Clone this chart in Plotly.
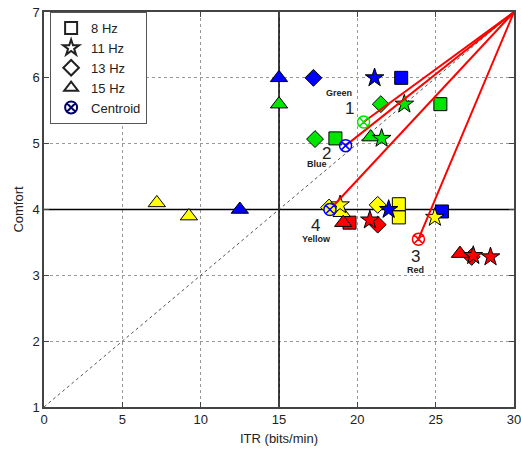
import plotly.graph_objects as go

# ---- data ----
COL = {"blue": "#0000FF", "green": "#00E600", "yellow": "#FFFF00", "red": "#FF0000"}

hz8_itr = [22.8, 25.3, 18.6, 22.65, 22.65, 19.5, 25.4]
hz8_comfort = [6.0, 5.6, 5.08, 4.08, 3.88, 3.8, 3.97]
hz8_color = ["blue", "green", "green", "yellow", "yellow", "red", "blue"]

hz11_itr = [21.1, 23.0, 21.55, 18.9, 22.0, 20.8, 24.95, 27.4, 28.5]
hz11_comfort = [6.0, 5.6, 5.08, 4.07, 4.0, 3.84, 3.88, 3.3, 3.28]
hz11_color = ["blue", "green", "green", "yellow", "blue", "red", "yellow", "red", "red"]

hz13_itr = [17.2, 21.5, 17.3, 21.3, 21.3, 27.3, 18.2]
hz13_comfort = [6.0, 5.6, 5.07, 4.07, 3.77, 3.28, 4.03]
hz13_color = ["blue", "green", "green", "yellow", "red", "red", "yellow"]

hz15_itr = [15.0, 15.0, 20.85, 7.2, 9.25, 12.5, 19.0, 19.1, 26.55]
hz15_comfort = [6.0, 5.6, 5.1, 4.1, 3.9, 4.0, 3.95, 3.8, 3.33]
hz15_color = ["blue", "green", "green", "yellow", "yellow", "blue", "yellow", "red", "red"]

centroid_names = ["Green", "Blue", "Yellow", "Red"]
centroid_numbers = ["1", "2", "4", "3"]
centroid_itr = [20.4, 19.25, 18.25, 23.9]
centroid_comfort = [5.33, 4.97, 4.0, 3.55]
centroid_color = ["green", "blue", "yellow", "red"]

ideal_point = (30, 7)

x_ticks = [0, 5, 10, 15, 20, 25, 30]
y_ticks = [1, 2, 3, 4, 5, 6, 7]

FONT = "Liberation Sans, Arial, sans-serif"

fig = go.Figure()

# diagonal reference line
fig.add_trace(go.Scatter(x=[0, 30], y=[1, 7], mode="lines",
                         line=dict(color="#555555", width=1, dash="dot"),
                         showlegend=False, hoverinfo="skip"))

groups = [
    (hz8_itr, hz8_comfort, hz8_color, "square", 13),
    (hz13_itr, hz13_comfort, hz13_color, "diamond", 13),
    (hz15_itr, hz15_comfort, hz15_color, "triangle-up", 15),
    (hz11_itr, hz11_comfort, hz11_color, "star", 14),
]
for xs, ys, cs, sym, sz in groups:
    fig.add_trace(go.Scatter(
        x=xs, y=ys, mode="markers", showlegend=False,
        marker=dict(symbol=sym, size=sz, color=[COL[c] for c in cs],
                    line=dict(color="black", width=1))))

# red lines to centroids
for cx, cy in zip(centroid_itr, centroid_comfort):
    fig.add_trace(go.Scatter(x=[ideal_point[0], cx], y=[ideal_point[1], cy],
                             mode="lines", line=dict(color="#FF0000", width=2),
                             showlegend=False, hoverinfo="skip"))

# centroids
for cx, cy, cc in zip(centroid_itr, centroid_comfort, centroid_color):
    if cc == "yellow":
        mk = dict(symbol="circle-x", size=12, color=COL["yellow"],
                  line=dict(color="#0000FF", width=1.5))
    else:
        mk = dict(symbol="circle-x-open", size=12, color=COL[cc],
                  line=dict(color=COL[cc], width=1.5))
    fig.add_trace(go.Scatter(x=[cx], y=[cy], mode="markers", marker=mk,
                             showlegend=False))

# legend entries
legend_items = [("8 Hz", "square"), ("11 Hz", "star"), ("13 Hz", "diamond"),
                ("15 Hz", "triangle-up"), ("Centroid", "circle-x")]
for name, sym in legend_items:
    lc = "#000066" if sym == "circle-x" else "#222"
    fig.add_trace(go.Scatter(x=[None], y=[None], mode="markers", name=name,
                             marker=dict(symbol=sym, size=14, color="white",
                                         line=dict(color=lc, width=1.3))))

# annotations
label_pos = {
    "Green": (18.85, 5.77), "1": (19.5, 5.53),
    "Blue": (17.4, 4.69), "2": (18.06, 4.85),
    "Yellow": (17.4, 3.55), "4": (17.35, 3.76),
    "Red": (23.74, 3.08), "3": (23.74, 3.29),
}
for name, num in zip(centroid_names, centroid_numbers):
    x, y = label_pos[name]
    fig.add_annotation(x=x, y=y, text="<b>%s</b>" % name, showarrow=False,
                       font=dict(size=9, color="#222", family=FONT))
    x, y = label_pos[num]
    fig.add_annotation(x=x, y=y, text=num, showarrow=False,
                       font=dict(size=17, color="#222", family=FONT))

# solid reference lines x=15, y=4
fig.add_shape(type="line", x0=15, x1=15, y0=1, y1=7, xref="x", yref="y",
              line=dict(color="black", width=1.5), layer="between")
fig.add_shape(type="line", x0=0, x1=30, y0=4, y1=4, xref="x", yref="y",
              line=dict(color="black", width=1.5), layer="between")

axis_common = dict(showline=True, linecolor="#444", linewidth=1.5, mirror="ticks",
                   ticks="inside", ticklen=5, tickcolor="#444",
                   showgrid=True, gridcolor="#999", griddash="dot", gridwidth=1,
                   zeroline=False, automargin=False, ticklabeloverflow="allow",
                   tickfont=dict(size=13, family=FONT, color="#222"))

fig.update_xaxes(range=[0, 30], tickvals=x_ticks,
                 title=dict(text="ITR (bits/min)", font=dict(size=13, family=FONT, color="#222"),
                            standoff=8), **axis_common)
fig.update_yaxes(range=[1, 7], tickvals=y_ticks,
                 title=dict(text="Comfort", font=dict(size=13, family=FONT, color="#222"),
                            standoff=6), **axis_common)

fig.update_layout(
    width=521, height=451,
    margin=dict(l=44, r=7, t=12, b=44),
    plot_bgcolor="white", paper_bgcolor="white",
    font=dict(family=FONT, color="#222"),
    legend=dict(x=0.013, y=1.0, xanchor="left", yanchor="top",
                bordercolor="#555", borderwidth=1, bgcolor="white",
                font=dict(size=13, family=FONT), itemsizing="constant",
                tracegroupgap=0),
)

fig.write_html("out.html")
